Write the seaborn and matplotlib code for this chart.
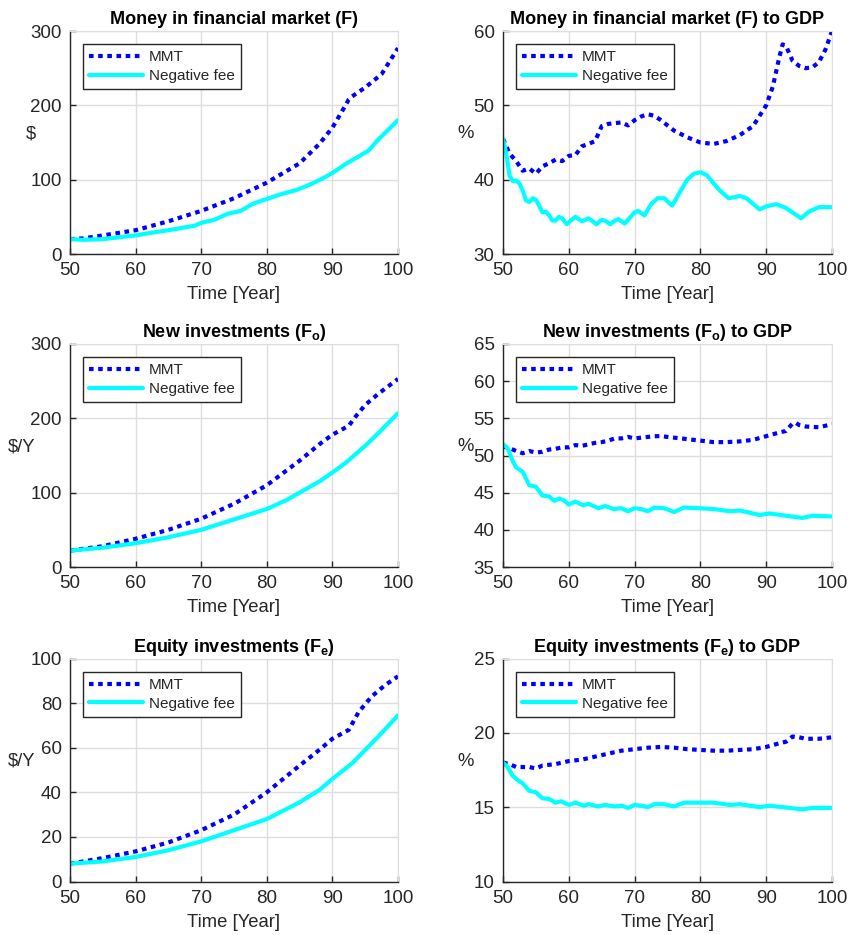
import pandas as pd
import seaborn as sns
import numpy as np
import matplotlib.pyplot as plt

# Money in financial market (F), $
f_mmt_t = [50, 52, 55, 60, 65, 70, 75, 80, 85, 88, 90, 92, 92.5, 93, 95, 97.5, 100]
f_mmt = [20, 21, 25, 32, 44, 58, 75, 96, 122, 148, 170, 200, 208, 212, 224, 242, 277]
f_nf_t = [50, 52, 55, 58, 60, 62, 65, 69, 70, 72, 74, 76, 78, 80, 82, 84.5, 87, 89, 90, 92, 95.5, 97, 100]
f_nf = [20, 19, 20, 23, 25, 28, 32, 38, 42, 46, 54, 58, 68, 74, 80, 86, 95, 104, 109, 121, 139, 154, 180]

# F to GDP, %
fg_mmt_t = [50, 51, 52, 53, 54, 55, 56, 57, 58, 59, 60, 61, 62, 63, 64, 65, 66, 67, 68, 69, 70, 71, 72,
            73, 74, 75, 76, 78, 80, 82, 84, 86, 88, 90, 91, 92, 92.5, 93, 94, 95, 96, 97, 98, 99, 100]
fg_mmt = [45.5, 43.5, 42.5, 41.2, 41.5, 40.8, 41.8, 42.2, 42.7, 42.5, 43.2, 43.3, 44.5, 44.8, 45.2, 47.2,
          47.5, 47.6, 47.7, 47.3, 48.0, 48.5, 48.8, 48.6, 48.0, 47.3, 46.6, 45.7, 45.0, 44.8, 45.2, 46.0,
          47.2, 50.0, 52.5, 56.5, 58.2, 58.0, 56.0, 55.3, 55.0, 55.1, 55.8, 57.5, 60.0]
fg_nf_t = [50, 50.5, 51, 51.5, 52, 52.5, 53, 53.5, 54, 54.5, 55, 55.5, 56, 56.5, 57, 57.5, 58, 58.5, 59,
           59.7, 60.3, 61, 61.5, 62, 63, 63.5, 64.2, 65, 65.5, 66.3, 67, 67.5, 68.5, 70, 70.5, 71.5, 72.5,
           73.5, 74.5, 75.7, 77, 78, 79, 80, 81, 82, 83, 84.3, 86, 87, 89, 90, 91.5, 93, 95.3, 96.5, 98, 100]
fg_nf = [45.5, 43.5, 40.5, 39.8, 39.9, 39.5, 38.5, 37.2, 37.0, 37.5, 37.3, 36.5, 35.6, 35.7, 35.2, 34.5,
         34.5, 35.0, 34.8, 34.0, 34.5, 35.0, 34.7, 34.4, 34.8, 34.5, 34.0, 34.6, 34.5, 34.0, 34.5, 34.7,
         34.1, 35.6, 35.8, 35.2, 36.7, 37.5, 37.5, 36.5, 38.5, 40.0, 40.8, 41.0, 40.6, 39.5, 38.5, 37.5,
         37.8, 37.5, 36.0, 36.4, 36.7, 36.2, 34.8, 35.7, 36.3, 36.3]

# New investments (Fo), $/Y
fo_mmt_t = [50, 55, 60, 65, 70, 75, 80, 85, 88, 90, 92.5, 93.5, 95, 97, 100]
fo_mmt = [22, 28, 38, 50, 65, 85, 110, 143, 165, 178, 190, 202, 218, 233, 253]
fo_nf_t = [50, 55, 60, 65, 70, 75, 80, 83, 85, 88, 90, 92, 95, 97, 100]
fo_nf = [22, 26, 32, 40, 50, 64, 78, 90, 100, 115, 127, 140, 163, 180, 207]

# Fo to GDP, %
fog_mmt_t = [50, 51, 52, 53, 54, 55, 56, 57, 58, 59, 60, 61, 62, 63, 64, 65, 66, 67, 68, 69, 70, 71, 72,
             73, 74, 75, 76, 78, 80, 82, 84, 86, 88, 90, 92, 93, 94, 94.5, 95, 96, 98, 100]
fog_mmt = [51.2, 51.0, 50.6, 50.3, 50.6, 50.4, 50.5, 50.8, 50.9, 51.1, 51.1, 51.4, 51.3, 51.5, 51.7, 51.8,
           52.0, 52.3, 52.3, 52.5, 52.3, 52.4, 52.5, 52.6, 52.6, 52.5, 52.4, 52.2, 52.0, 51.8, 51.8, 51.9,
           52.1, 52.6, 53.1, 53.3, 54.3, 54.4, 54.1, 53.9, 53.8, 54.2]
fog_nf_t = [50, 50.7, 51.5, 52, 53, 54, 55, 56, 57, 57.8, 58.5, 59.2, 60, 61, 62.2, 63, 64.5, 65.5, 66.8,
            68, 69, 70, 71, 72, 73, 74.5, 76, 77.5, 80, 82, 84.5, 86, 89, 90.5, 95.5, 97, 100]
fog_nf = [51.5, 51.0, 49.2, 48.4, 47.8, 46.0, 45.8, 44.6, 44.5, 43.9, 44.2, 44.0, 43.4, 43.8, 43.3, 43.5,
          42.9, 43.2, 42.8, 42.9, 42.5, 42.9, 42.8, 42.5, 43.0, 42.9, 42.4, 43.0, 42.9, 42.8, 42.5, 42.6,
          42.0, 42.2, 41.6, 41.9, 41.8]

# Equity investments (Fe), $/Y
fe_mmt_t = [50, 55, 60, 65, 70, 75, 80, 85, 88, 90, 92.5, 94, 96, 98, 100]
fe_mmt = [8, 10.5, 13.5, 17.5, 23, 30, 40, 52, 59, 64, 68, 76, 83, 88, 92]
fe_nf_t = [50, 55, 60, 65, 70, 75, 80, 85, 88, 90, 93, 95, 97, 100]
fe_nf = [8, 9, 11, 14, 18, 23, 28, 35.5, 41, 46, 53, 59, 65, 74.5]

# Fe to GDP, %
feg_mmt_t = [50, 51, 52, 53, 54, 55, 56, 58, 60, 62, 64, 66, 68, 70, 72, 74, 76, 78, 80, 82, 84, 86, 88,
             90, 92, 93, 94, 95, 96, 98, 100]
feg_mmt = [18.0, 17.9, 17.7, 17.7, 17.7, 17.6, 17.8, 17.9, 18.1, 18.2, 18.4, 18.6, 18.8, 18.9, 19.0, 19.05,
           19.0, 18.9, 18.85, 18.8, 18.8, 18.85, 18.9, 19.05, 19.3, 19.4, 19.75, 19.7, 19.6, 19.6, 19.7]
feg_nf_t = [50, 50.7, 51.5, 52.3, 53, 54, 55, 56, 57, 58, 58.8, 60, 61, 62.3, 63, 64.5, 65.5, 67, 68, 69,
            70, 71, 72, 73, 74.5, 76, 77.5, 80, 82, 84.5, 86, 89, 90.5, 95.5, 97, 100]
feg_nf = [18.0, 17.7, 17.1, 16.8, 16.6, 16.1, 16.0, 15.6, 15.55, 15.3, 15.4, 15.15, 15.3, 15.1, 15.2, 15.05,
          15.15, 15.05, 15.1, 14.95, 15.15, 15.1, 15.0, 15.2, 15.2, 15.05, 15.3, 15.3, 15.3, 15.15, 15.2,
          15.0, 15.1, 14.85, 14.95, 14.95]

series_names = ["MMT", "Negative fee"]

panels = [
    ("Money in financial market (F)", r"\$", (0, 300), [0, 100, 200, 300], f_mmt_t, f_mmt, f_nf_t, f_nf),
    ("Money in financial market (F) to GDP", "%", (30, 60), [30, 40, 50, 60], fg_mmt_t, fg_mmt, fg_nf_t, fg_nf),
    (r"New investments (F$_\mathbf{o}$)", r"\$/Y", (0, 300), [0, 100, 200, 300], fo_mmt_t, fo_mmt, fo_nf_t, fo_nf),
    (r"New investments (F$_\mathbf{o}$) to GDP", "%", (35, 65), [35, 40, 45, 50, 55, 60, 65], fog_mmt_t, fog_mmt, fog_nf_t, fog_nf),
    (r"Equity investments (F$_\mathbf{e}$)", r"\$/Y", (0, 100), [0, 20, 40, 60, 80, 100], fe_mmt_t, fe_mmt, fe_nf_t, fe_nf),
    (r"Equity investments (F$_\mathbf{e}$) to GDP", "%", (10, 25), [10, 15, 20, 25], feg_mmt_t, feg_mmt, feg_nf_t, feg_nf),
]

sns.set_style("whitegrid")
plt.rcParams['font.family'] = ['Liberation Sans', 'DejaVu Sans']
plt.rcParams['mathtext.fontset'] = 'custom'
plt.rcParams['mathtext.rm'] = 'Liberation Sans'
plt.rcParams['mathtext.bf'] = 'Liberation Sans:bold'

W, H = 848, 935
fig = plt.figure(figsize=(W / 100, H / 100), dpi=100)

col_left = [70, 503]
col_w = [328, 329]
row_top = [31, 344, 658.5]
ax_h = 223

dark = "#262626"
gridc = "#dedede"

for i, (title, ylab, ylim, yticks, t1, y1, t2, y2) in enumerate(panels):
    r, c = divmod(i, 2)
    ax = fig.add_axes([col_left[c] / W, 1 - (row_top[r] + ax_h) / H, col_w[c] / W, ax_h / H])
    sns.lineplot(x=t1, y=y1, ax=ax, color="#0000ff", lw=3, label=series_names[0])
    ax.lines[-1].set_linestyle((0, (1.1, 1.1)))
    sns.lineplot(x=t2, y=y2, ax=ax, color="#00ffff", lw=3, label=series_names[1])
    ax.set_xlim(50, 100)
    ax.set_ylim(*ylim)
    ax.set_xticks([50, 60, 70, 80, 90, 100])
    ax.set_yticks(yticks)
    ax.grid(True, color=gridc, lw=1)
    for s in ["top", "right"]:
        ax.spines[s].set_color(gridc)
    for s in ["left", "bottom"]:
        ax.spines[s].set_color(dark)
        ax.spines[s].set_linewidth(1)
    ax.tick_params(direction="in", length=4, width=1, colors=dark, labelsize=13.5, pad=6,
                   left=True, bottom=True)
    ax.set_title(title, fontsize=13, fontweight="bold", color="black", pad=5)
    ax.set_xlabel("Time [Year]", fontsize=13.3, color=dark, labelpad=5)
    ax.set_ylabel(ylab, fontsize=13.3, color=dark, rotation=0, ha="right", va="center")
    ax.yaxis.set_label_coords(-0.105 if c == 0 else -0.09, 0.54)
    leg = ax.legend(loc="upper left", bbox_to_anchor=(0.04, 0.94), fontsize=11, frameon=True,
                    fancybox=False, edgecolor=dark, framealpha=1, handlelength=3.5,
                    borderpad=0.4, labelspacing=0.3, handletextpad=0.4, borderaxespad=0)
    leg.get_frame().set_linewidth(1)

fig.savefig("out.png", dpi=100)
